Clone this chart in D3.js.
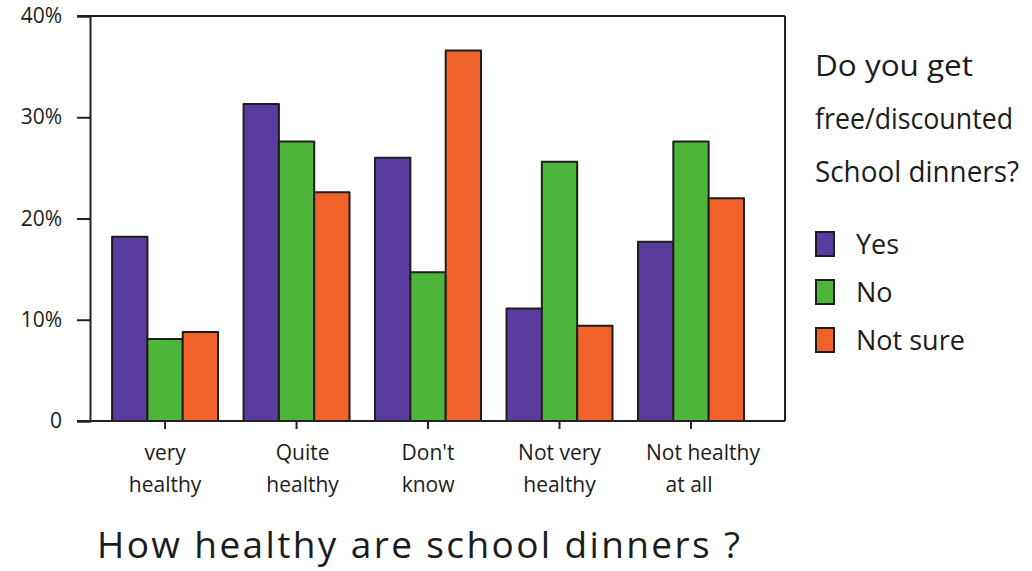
<!DOCTYPE html>
<html>
<head>
<meta charset="utf-8">
<script src="https://cdn.jsdelivr.net/npm/d3@7"></script>
<style>
  html, body { margin: 0; padding: 0; background: #ffffff; }
  svg text { font-family: "Open Sans", "Lato", sans-serif; fill: #1c1c1c; }
</style>
</head>
<body>
<svg id="chart" width="1032" height="571"></svg>
<script>
// ---- data ----
const categories = ["Very healthy", "Quite healthy", "Don't know", "Not very healthy", "Not healthy at all"];
const categoryLines = [["very", "healthy"], ["Quite", "healthy"], ["Don't", "know"], ["Not very", "healthy"], ["Not healthy", "at all"]];
const seriesNames = ["Yes", "No", "Not sure"];
const yesValues = [18.2, 31.3, 26.0, 11.1, 17.7];
const noValues = [8.1, 27.6, 14.7, 25.6, 27.6];
const notSureValues = [8.8, 22.6, 36.6, 9.4, 22.0];
const yTicks = [0, 10, 20, 30, 40];
const xTitle = "How healthy are school dinners ?";
const legendTitle = ["Do you get", "free/discounted", "School dinners?"];
const colors = ["#5a3c9e", "#4cb53a", "#f1622a"];

const seriesValues = [yesValues, noValues, notSureValues];

const svg = d3.select("#chart");
const pLeft = 90, pRight = 785, pTop = 16, pBottom = 421;

const x0 = d3.scaleBand().domain(categories).range([pLeft, pRight])
  .paddingInner(0.194).paddingOuter(0.24).align(0.35);
const x1 = d3.scaleBand().domain(seriesNames).range([0, x0.bandwidth()]).padding(0);
const y = d3.scaleLinear().domain([0, 40]).range([pBottom, pTop]);
const color = d3.scaleOrdinal().domain(seriesNames).range(colors);

// bars
const groups = svg.append("g").selectAll("g").data(categories).join("g")
  .attr("transform", d => `translate(${x0(d)},0)`);
groups.selectAll("rect")
  .data((c, i) => seriesNames.map((s, k) => ({ s, v: seriesValues[k][i] })))
  .join("rect")
  .attr("x", d => x1(d.s))
  .attr("width", x1.bandwidth())
  .attr("y", d => y(d.v))
  .attr("height", d => y(0) - y(d.v))
  .attr("fill", d => color(d.s))
  .attr("stroke", "#1e1e1e")
  .attr("stroke-width", 2)
  .attr("stroke-linejoin", "round");

// frame (top & right)
svg.append("line").attr("x1", pLeft - 13).attr("x2", pRight).attr("y1", pTop).attr("y2", pTop)
  .attr("stroke", "#222").attr("stroke-width", 2);
svg.append("line").attr("x1", pRight).attr("x2", pRight).attr("y1", pTop).attr("y2", pBottom)
  .attr("stroke", "#222").attr("stroke-width", 2);

// y axis
const yAxis = svg.append("g").attr("transform", `translate(${pLeft},0)`)
  .call(d3.axisLeft(y).tickValues(yTicks).tickSize(13)
    .tickFormat(d => d === 0 ? "0" : d + "%"));
yAxis.select(".domain").attr("stroke", "#222").attr("stroke-width", 2);
yAxis.selectAll(".tick line").attr("stroke", "#222").attr("stroke-width", 2);
yAxis.selectAll(".tick text").attr("font-size", 21).attr("x", -28).attr("fill", "#1c1c1c")
  .style("font-family", "'Open Sans', sans-serif");

// x axis
const xAxis = svg.append("g").attr("transform", `translate(0,${pBottom})`)
  .call(d3.axisBottom(x0).tickSize(8).tickFormat(""));
xAxis.select(".domain").attr("d", `M${pLeft - 13},0H${pRight}`).attr("stroke", "#222").attr("stroke-width", 2);
xAxis.selectAll(".tick line").attr("stroke", "#222").attr("stroke-width", 2);
xAxis.selectAll(".tick").each(function (d, i) {
  const t = d3.select(this).append("text").attr("text-anchor", "middle")
    .attr("font-size", 21).attr("fill", "#1c1c1c");
  const dx = i === 4 ? 12 : (i === 1 ? 6 : 0);
  t.append("tspan").attr("x", dx).attr("y", 39).text(categoryLines[i][0]);
  t.append("tspan").attr("x", dx - (i === 4 ? 14 : 0)).attr("y", 71).text(categoryLines[i][1]);
});

// x title
svg.append("text").attr("x", 97).attr("y", 558)
  .attr("font-size", 37).attr("textLength", 643).attr("lengthAdjust", "spacing")
  .text(xTitle);

// legend
const lg = svg.append("g");
lg.selectAll("text.title").data(legendTitle).join("text").attr("class", "title")
  .attr("x", 815).attr("y", (d, i) => 76 + i * 53)
  .attr("font-size", 29)
  .attr("textLength", (d, i) => [158, 198, 204][i]).attr("lengthAdjust", "spacingAndGlyphs")
  .text(d => d);
const items = lg.selectAll("g.item").data(seriesNames).join("g").attr("class", "item")
  .attr("transform", (d, i) => `translate(816,${232 + i * 48})`);
items.append("rect").attr("width", 18).attr("height", 24)
  .attr("fill", d => color(d)).attr("stroke", "#1e1e1e").attr("stroke-width", 2);
items.append("text").attr("x", 40).attr("y", 22).attr("font-size", 27).text(d => d);
</script>
</body>
</html>
